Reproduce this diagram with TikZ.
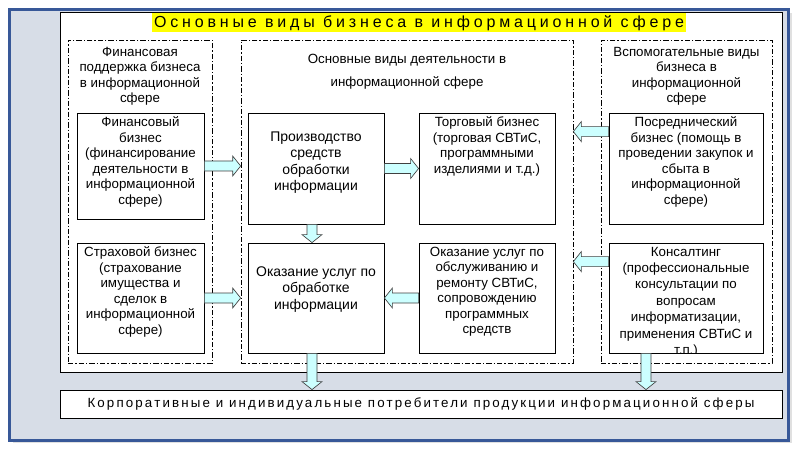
\documentclass[tikz,border=0pt]{standalone}
\usepackage{fontspec}
\setmainfont{Liberation Sans}
\newfontfamily\titrefont[LetterSpace=24]{Liberation Sans}
\newfontfamily\basfont[LetterSpace=16]{Liberation Sans}
\usetikzlibrary{calc}

\definecolor{cadrebleu}{RGB}{56,88,152}
\definecolor{cadrefond}{RGB}{215,221,231}
\definecolor{flechefond}{RGB}{204,255,255}
\definecolor{titrejaune}{RGB}{255,255,0}

\tikzset{
  bloc/.style={draw, fill=white, line width=0.6pt, inner sep=0pt,
    minimum width=102pt, minimum height=83.25pt},
  zone/.style={draw, line width=0.5pt, inner sep=0pt, minimum height=242.25pt,
    dash pattern=on 4pt off 1.5pt on 1pt off 1.5pt},
  texte/.style={align=center, inner sep=0pt, anchor=north,
    font=\fontsize{10}{11.6}\selectfont},
  grand/.style={texte, font=\fontsize{10.5}{12.2}\selectfont},
  fleche/.style={draw=black!75, fill=flechefond, line width=0.5pt,
    to path={let \p1=($(\tikztotarget)-(\tikztostart)$), \p2=(\tikztostart),
      \n1={atan2(\y1,\x1)}, \n2={veclen(\x1,\y1)} in
      ([shift={(\p2)},rotate=\n1]0pt,3.75pt)
      -- ([shift={(\p2)},rotate=\n1]\n2-6pt,3.75pt)
      -- ([shift={(\p2)},rotate=\n1]\n2-6pt,7.5pt)
      -- ([shift={(\p2)},rotate=\n1]\n2+0pt,0pt)
      -- ([shift={(\p2)},rotate=\n1]\n2-6pt,-7.5pt)
      -- ([shift={(\p2)},rotate=\n1]\n2-6pt,-3.75pt)
      -- ([shift={(\p2)},rotate=\n1]0pt,-3.75pt) -- cycle}}
}

\begin{document}
\begin{tikzpicture}[x=0.75pt, y=-0.75pt]
\useasboundingbox (0,0) rectangle (800,449);

%CADRE
\fill[black!12] (13,13) rectangle (792,443);
\draw[cadrebleu, line width=2.4pt, fill=cadrefond] (9.5,9.5) rectangle (788.5,440.5);
\draw[fill=white, line width=0.6pt] (60,12) rectangle (782,372);

%TITRE
\node[fill=titrejaune, inner xsep=1.5pt, inner ysep=0pt, minimum height=14.25pt,
  font=\titrefont\fontsize{12}{14}\selectfont] (titre) at (419,23)
  {Основные виды бизнеса в информационной сфере};

%ZONES
\node[zone, minimum width=108pt] (gauche) at (140,201.5) {};
\node[zone, minimum width=249pt] (milieu) at (407,201.5) {};
\node[zone, minimum width=128.25pt] (droite) at (686.5,201.5) {};
\node[texte] (gauche-t) at ([yshift=-5.25pt]gauche.north)
  {Финансовая\\поддержка бизнеса\\в информационной\\сфере};
\node[texte, font=\fontsize{10}{17.25}\selectfont] (milieu-t) at ([yshift=-10.5pt]milieu.north)
  {Основные виды деятельности в\\информационной сфере};
\node[texte] (droite-t) at ([yshift=-5.25pt]droite.north)
  {Вспомогательные виды\\бизнеса в\\информационной\\сфере};

%BLOCS
\node[bloc, minimum width=95.25pt, minimum height=79.5pt] (fin) at (140.5,166) {};
\node[bloc, minimum width=95.25pt, minimum height=82.5pt] (strah) at (140.5,298) {};
\node[bloc] (proizv) at (316,168.5) {};
\node[bloc] (torg) at (487,168.5) {};
\node[bloc, minimum height=82.5pt] (okaz) at (316,298) {};
\node[bloc, minimum height=82.5pt] (obsl) at (487,298) {};
\node[bloc, minimum width=115.5pt] (posr) at (686,168.5) {};
\node[bloc, minimum width=115.5pt, minimum height=82.5pt] (kons) at (686,298) {};
\node[bloc, minimum width=541.5pt, minimum height=21pt] (potr) at (421,404) {};

%TEXTES
\node[texte] (fin-t) at ([yshift=-3pt]fin.north)
  {Финансовый\\бизнес\\(финансирование\\деятельности в\\информационной\\сфере)};
\node[texte] (strah-t) at ([yshift=-3pt]strah.north)
  {Страховой бизнес\\(страхование\\имущества и\\сделок в\\информационной\\сфере)};
\node[grand] (proizv-t) at ([yshift=-14.25pt]proizv.north)
  {Производство\\средств\\обработки\\информации};
\node[texte] (torg-t) at ([yshift=-3pt]torg.north)
  {Торговый бизнес\\(торговая СВТиС,\\программными\\изделиями и т.д.)};
\node[grand] (okaz-t) at ([yshift=-18pt]okaz.north)
  {Оказание услуг по\\обработке\\информации};
\node[texte] (obsl-t) at ([yshift=-3pt]obsl.north)
  {Оказание услуг по\\обслуживанию и\\ремонту СВТиС,\\сопровождению\\программных\\средств};
\node[texte] (posr-t) at ([yshift=-3pt]posr.north)
  {Посреднический\\бизнес (помощь в\\проведении закупок и\\сбыта в\\информационной\\сфере)};
\begin{scope}
  \clip (kons.north west) rectangle (kons.south east);
  \node[texte, font=\fontsize{10}{12.3}\selectfont] (kons-t) at ([yshift=-3pt]kons.north)
    {Консалтинг\\(профессиональные\\консультации по\\вопросам\\информатизации,\\применения СВТиС и\\т.п.)};
\end{scope}
\node[inner sep=0pt, font=\basfont\fontsize{10}{12}\selectfont] (potr-t) at (potr.center)
  {Корпоративные и индивидуальные потребители продукции информационной сферы};

%FLECHES
\coordinate (posr-a) at ([yshift=-14.25pt]posr.north west);
\coordinate (kons-a) at ([yshift=-14.25pt]kons.north west);
\coordinate (kons-b) at ([xshift=-30pt]kons.south);
\draw[fleche] (fin.east) to (fin.east -| milieu.west);
\draw[fleche] (strah.east) to (strah.east -| milieu.west);
\draw[fleche] (proizv.east) to (torg.west);
\draw[fleche] ([xshift=-3pt]proizv.south) to ([xshift=-3pt]okaz.north);
\draw[fleche] (obsl.west) to (okaz.east);
\draw[fleche] (posr-a) to (posr-a -| milieu.east);
\draw[fleche] (kons-a) to (kons-a -| milieu.east);
\draw[fleche] ([xshift=-3pt]okaz.south) to ([xshift=-3pt]okaz.south |- potr.north);
\draw[fleche] (kons-b) to (kons-b |- potr.north);
\end{tikzpicture}
\end{document}
